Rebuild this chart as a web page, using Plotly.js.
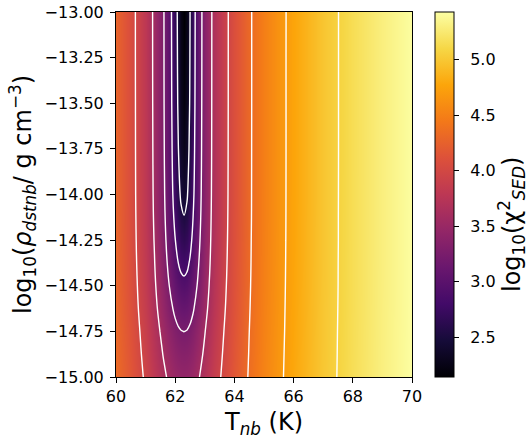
<!DOCTYPE html>
<html><head><meta charset="utf-8">
<script src="https://cdn.plot.ly/plotly-3.0.1.min.js"></script>
<style>html,body{margin:0;padding:0;background:#fff;}</style>
</head><body><div id="chart" style="width:528px;height:439px;"></div>
<script>
// Temperature grid (K)
const tempK = [60, 60.5, 61, 61.3, 61.6, 61.8, 62.0, 62.1, 62.2, 62.3, 62.4, 62.5, 62.6, 62.8, 63.0, 63.3, 63.6, 64, 64.5, 65, 65.5, 66, 67, 68, 69, 70];
// log10 density grid
const logRho = [-15, -14.875, -14.75, -14.625, -14.5, -14.375, -14.25, -14.125, -14, -13.75, -13.5, -13.25, -13];
// log10 chi^2 values (rows follow logRho, columns follow tempK)
const logChi2 = [
 [4.329,4.151,3.941,3.801,3.656,3.567,3.496,3.471,3.455,3.450,3.457,3.477,3.509,3.597,3.703,3.867,4.001,4.162,4.358,4.525,4.667,4.790,4.995,5.162,5.302,5.423],
 [4.317,4.133,3.911,3.759,3.597,3.493,3.407,3.376,3.357,3.350,3.359,3.384,3.423,3.528,3.650,3.831,3.976,4.146,4.348,4.518,4.662,4.786,4.993,5.160,5.301,5.422],
 [4.306,4.117,3.884,3.719,3.538,3.417,3.312,3.274,3.249,3.240,3.251,3.283,3.332,3.458,3.598,3.798,3.954,4.132,4.339,4.512,4.657,4.782,4.991,5.159,5.300,5.421],
 [4.295,4.099,3.854,3.675,3.469,3.323,3.189,3.137,3.102,3.090,3.106,3.150,3.214,3.374,3.538,3.761,3.930,4.117,4.330,4.506,4.653,4.779,4.989,5.157,5.299,5.420],
 [4.287,4.087,3.832,3.641,3.413,3.242,3.074,3.005,2.957,2.940,2.962,3.022,3.107,3.302,3.491,3.733,3.912,4.106,4.323,4.501,4.649,4.777,4.987,5.156,5.298,5.419],
 [4.282,4.078,3.815,3.615,3.368,3.174,2.969,2.879,2.814,2.790,2.821,2.902,3.011,3.244,3.454,3.712,3.899,4.098,4.318,4.498,4.647,4.775,4.986,5.156,5.297,5.419],
 [4.278,4.071,3.804,3.596,3.335,3.121,2.882,2.769,2.683,2.650,2.692,2.798,2.932,3.199,3.427,3.698,3.890,4.092,4.315,4.496,4.645,4.774,4.985,5.155,5.297,5.419],
 [4.275,4.067,3.796,3.583,3.311,3.081,2.810,2.673,2.563,2.520,2.576,2.710,2.869,3.166,3.408,3.688,3.883,4.089,4.312,4.494,4.644,4.773,4.985,5.155,5.297,5.419],
 [4.274,4.064,3.790,3.575,3.295,3.054,2.757,2.599,2.465,2.410,2.481,2.642,2.823,3.144,3.395,3.681,3.879,4.086,4.311,4.493,4.644,4.772,4.984,5.155,5.297,5.418],
 [4.272,4.062,3.786,3.568,3.281,3.029,2.708,2.525,2.362,2.290,2.381,2.576,2.781,3.124,3.384,3.675,3.876,4.084,4.310,4.492,4.643,4.772,4.984,5.154,5.297,5.418],
 [4.271,4.061,3.784,3.564,3.273,3.016,2.679,2.480,2.294,2.210,2.317,2.536,2.756,3.113,3.378,3.672,3.874,4.083,4.309,4.492,4.643,4.772,4.984,5.154,5.297,5.418],
 [4.271,4.060,3.783,3.562,3.270,3.010,2.666,2.459,2.262,2.170,2.286,2.518,2.746,3.108,3.375,3.671,3.873,4.083,4.309,4.492,4.643,4.772,4.984,5.154,5.297,5.418],
 [4.271,4.060,3.782,3.561,3.268,3.006,2.656,2.444,2.238,2.140,2.263,2.505,2.738,3.105,3.373,3.670,3.873,4.082,4.309,4.492,4.643,4.771,4.984,5.154,5.297,5.418]
];
const zMin = 2.14, zMax = 5.43;
const levelStart = 2.51, levelSize = 0.366, levelEnd = 5.1;
const xTicks = [60, 62, 64, 66, 68, 70];
const yTicks = [-15, -14.75, -14.5, -14.25, -14, -13.75, -13.5, -13.25, -13];
const cbTicks = [2.5, 3.0, 3.5, 4.0, 4.5, 5.0];
const xTitle = 'T<sub><i>nb</i></sub> (K)';
const yTitle = 'log<sub>10</sub>(<i>ρ</i><sub><i>dstnb</i></sub>/ g cm<sup>−3</sup>)';
const cbTitle = 'log<sub>10</sub>(χ<sup>2</sup><sub><i>SED</i></sub>)';

const inferno = [
 [0.0,'#000004'],[0.1,'#160b39'],[0.2,'#420a68'],[0.3,'#6a176e'],[0.4,'#932667'],
 [0.5,'#bc3754'],[0.6,'#dd513a'],[0.7,'#f37819'],[0.8,'#fca50a'],[0.9,'#f6d746'],[1.0,'#fcffa4']
];
const font = {family: 'DejaVu Sans, sans-serif', color: '#000'};
const tickFont = Object.assign({}, font, {size: 16});
const titleFont = Object.assign({}, font, {size: 24});

const heat = {
  type: 'heatmap', x: tempK, y: logRho, z: logChi2,
  colorscale: inferno, zmin: zMin, zmax: zMax, zsmooth: 'best',
  hoverinfo: 'skip',
  colorbar: {
    x: (435 - 116) / 296, xanchor: 'left', xpad: 0, ypad: 0,
    y: 0.5, yanchor: 'middle', len: 1, lenmode: 'fraction',
    thickness: 19, outlinewidth: 1, outlinecolor: '#000',
    tickvals: cbTicks, ticktext: cbTicks.map(v => '\u2002' + v.toFixed(1)),
    ticks: 'outside', ticklen: 5, tickwidth: 1, tickcolor: '#000',
    tickfont: tickFont
  }
};
const cont = {
  type: 'contour', x: tempK, y: logRho, z: logChi2,
  autocontour: false,
  contours: {start: levelStart, end: levelEnd, size: levelSize, coloring: 'none'},
  line: {color: '#ffffff', width: 1.4, smoothing: 1},
  showscale: false, hoverinfo: 'skip'
};
const layout = {
  width: 528, height: 439,
  margin: {l: 116, r: 116, t: 12, b: 62},
  paper_bgcolor: '#fff', plot_bgcolor: '#fff',
  font: font,
  showlegend: false,
  xaxis: {
    range: [60, 70], tickvals: xTicks, ticks: 'outside', ticklen: 5, tickwidth: 1, tickcolor: '#000',
    showline: true, linecolor: '#000', linewidth: 1, mirror: true, showgrid: false, zeroline: false,
    tickfont: tickFont,
    title: {text: xTitle, font: titleFont, standoff: 9}
  },
  yaxis: {
    range: [-15, -13], tickvals: yTicks, tickformat: '.2f', ticks: 'outside', ticklen: 5, tickwidth: 1, tickcolor: '#000',
    showline: true, linecolor: '#000', linewidth: 1, mirror: true, showgrid: false, zeroline: false,
    tickfont: tickFont, ticklabelstandoff: 3,
    title: {text: yTitle, font: titleFont, standoff: 6}
  },
  annotations: [{
    text: cbTitle, textangle: -90, showarrow: false,
    xref: 'paper', yref: 'paper', x: (512 - 116) / 296, y: (377 - 225) / 365,
    xanchor: 'center', yanchor: 'middle', font: titleFont
  }]
};
Plotly.newPlot('chart', [heat, cont], layout, {displayModeBar: false, staticPlot: true});
</script>
</body></html>
